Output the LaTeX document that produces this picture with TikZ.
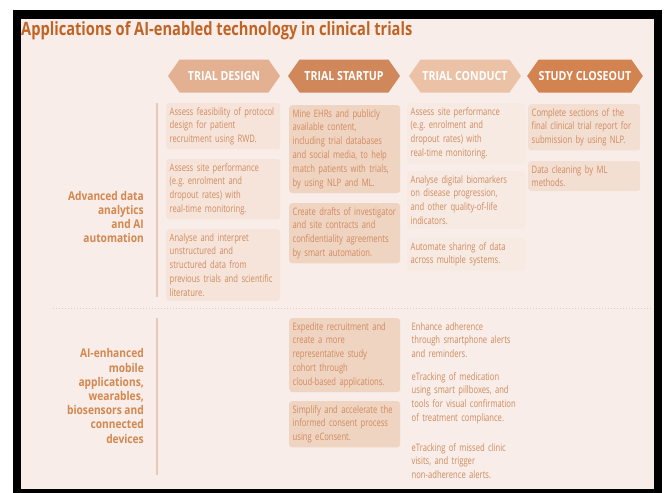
\documentclass[tikz,border=0pt]{standalone}
\usepackage{fontspec}
\setmainfont{Open Sans}[FakeStretch=0.74]
\newfontfamily\titlefont{Open Sans}[FakeStretch=0.8]
\newfontfamily\labfont{Open Sans}[FakeStretch=0.85]
\frenchspacing
\usetikzlibrary{shapes.symbols}
\definecolor{panel}{HTML}{F8EDE8}
\definecolor{titlec}{HTML}{BF6425}
\definecolor{labc}{HTML}{D4874F}
\definecolor{txtc}{HTML}{CF8A5E}
\definecolor{hA}{HTML}{E3B091}
\definecolor{hB}{HTML}{D0875A}
\definecolor{hC}{HTML}{EBC2A6}
\definecolor{hD}{HTML}{D3834F}
\definecolor{bA}{HTML}{F6E4DB}
\definecolor{bB}{HTML}{F0D4C2}
\definecolor{bC}{HTML}{F7EAE3}
\definecolor{bD}{HTML}{F3DED2}
\definecolor{linec}{HTML}{E6C9B8}
\tikzset{
 hexhdr/.style={signal, signal to=east and west, signal pointer angle=110,
   minimum width=112pt, minimum height=33pt, inner sep=0pt, text=white,
   font=\labfont\fontsize{12.5}{14}\selectfont\bfseries},
 itembox/.style={anchor=north west, inner xsep=3.5pt, inner ysep=4pt, align=left,
   text width=#1, text=txtc, font=\fontsize{10.3}{13.9}\selectfont, rounded corners=3pt},
 rowlabel/.style={anchor=east, align=right, text=labc, inner sep=0pt,
   font=\labfont\fontsize{12}{14.2}\selectfont\bfseries},
 guide/.style={draw=linec, line width=1.2pt},
}
\begin{document}
\begin{tikzpicture}[x=1pt,y=-1pt]
\useasboundingbox (0,0) rectangle (665,493);
\fill[white] (0,0) rectangle (665,493);
\fill[black] (13,10) rectangle (662,493);
\fill[panel] (21,19) rectangle (654,489);

\node[anchor=base west, text=titlec, inner sep=0pt, font=\titlefont\fontsize{18.3}{20}\selectfont\bfseries] (title) at (21,35) {Applications of AI-enabled technology in clinical trials};

\node[hexhdr, fill=hA] (hdesign) at (224,76) {TRIAL DESIGN};
\node[hexhdr, fill=hB] (hstartup) at (344,76) {TRIAL STARTUP};
\node[hexhdr, fill=hC] (hconduct) at (465,76) {TRIAL CONDUCT};
\node[hexhdr, fill=hD] (hcloseout) at (585,76) {STUDY CLOSEOUT};

\node[rowlabel] (rowA) at (144,217) {Advanced data\\analytics\\and AI\\automation};
\node[rowlabel] (rowB) at (144,396) {AI-enhanced\\mobile\\applications,\\wearables,\\biosensors and\\connected\\devices};

\draw[guide] (157,103) -- (157,297);
\draw[guide] (157,318) -- (157,475);
\draw[draw=linec, line width=1pt, dotted] (53,308) -- (653,308);

% Trial design
\node[itembox=107pt, fill=bA] (d1) at (166,103) {Assess feasibility of protocol\\design for patient\\recruitment using RWD.};
\node[itembox=107pt, fill=bA] (d2) at (166,159) {Assess site performance\\(e.g. enrolment and\\dropout rates) with\\real-time monitoring.};
\node[itembox=107pt, fill=bA] (d3) at (166,229) {Analyse and interpret\\unstructured and\\structured data from\\previous trials and scientific\\literature.};

% Trial startup
\node[itembox=104pt, fill=bB] (s1) at (289,105) {Mine EHRs and publicly\\available content,\\including trial databases\\and social media, to help\\match patients with trials,\\by using NLP and ML.};
\node[itembox=104pt, fill=bB] (s2) at (289,203) {Create drafts of investigator\\and site contracts and\\confidentiality agreements\\by smart automation.};
\node[itembox=104pt, fill=bB] (s3) at (289,318) {Expedite recruitment and\\create a more\\representative study\\cohort through\\cloud-based applications.};
\node[itembox=104pt, fill=bB] (s4) at (289,401) {Simplify and accelerate the\\informed consent process\\using eConsent.};

% Trial conduct
\node[itembox=111pt, fill=bC] (c1) at (407,103) {Assess site performance\\(e.g. enrolment and\\dropout rates) with\\real-time monitoring.};
\node[itembox=111pt, fill=bC] (c2) at (407,171) {Analyse digital biomarkers\\on disease progression,\\and other quality-of-life\\indicators.};
\node[itembox=111pt, fill=bC] (c3) at (407,238) {Automate sharing of data\\across multiple systems.};
\node[itembox=111pt] (c4) at (408,318) {Enhance adherence\\through smartphone alerts\\and reminders.};
\node[itembox=111pt] (c5) at (408,368) {eTracking of medication\\using smart pillboxes, and\\tools for visual confirmation\\of treatment compliance.};
\node[itembox=111pt] (c6) at (408,439) {eTracking of missed clinic\\visits, and trigger\\non-adherence alerts.};

% Study closeout
\node[itembox=105pt, fill=bD] (e1) at (528,104) {Complete sections of the\\final clinical trial report for\\submission by using NLP.};
\node[itembox=105pt, fill=bD] (e2) at (528,161) {Data cleaning by ML\\methods.};
\end{tikzpicture}
\end{document}
